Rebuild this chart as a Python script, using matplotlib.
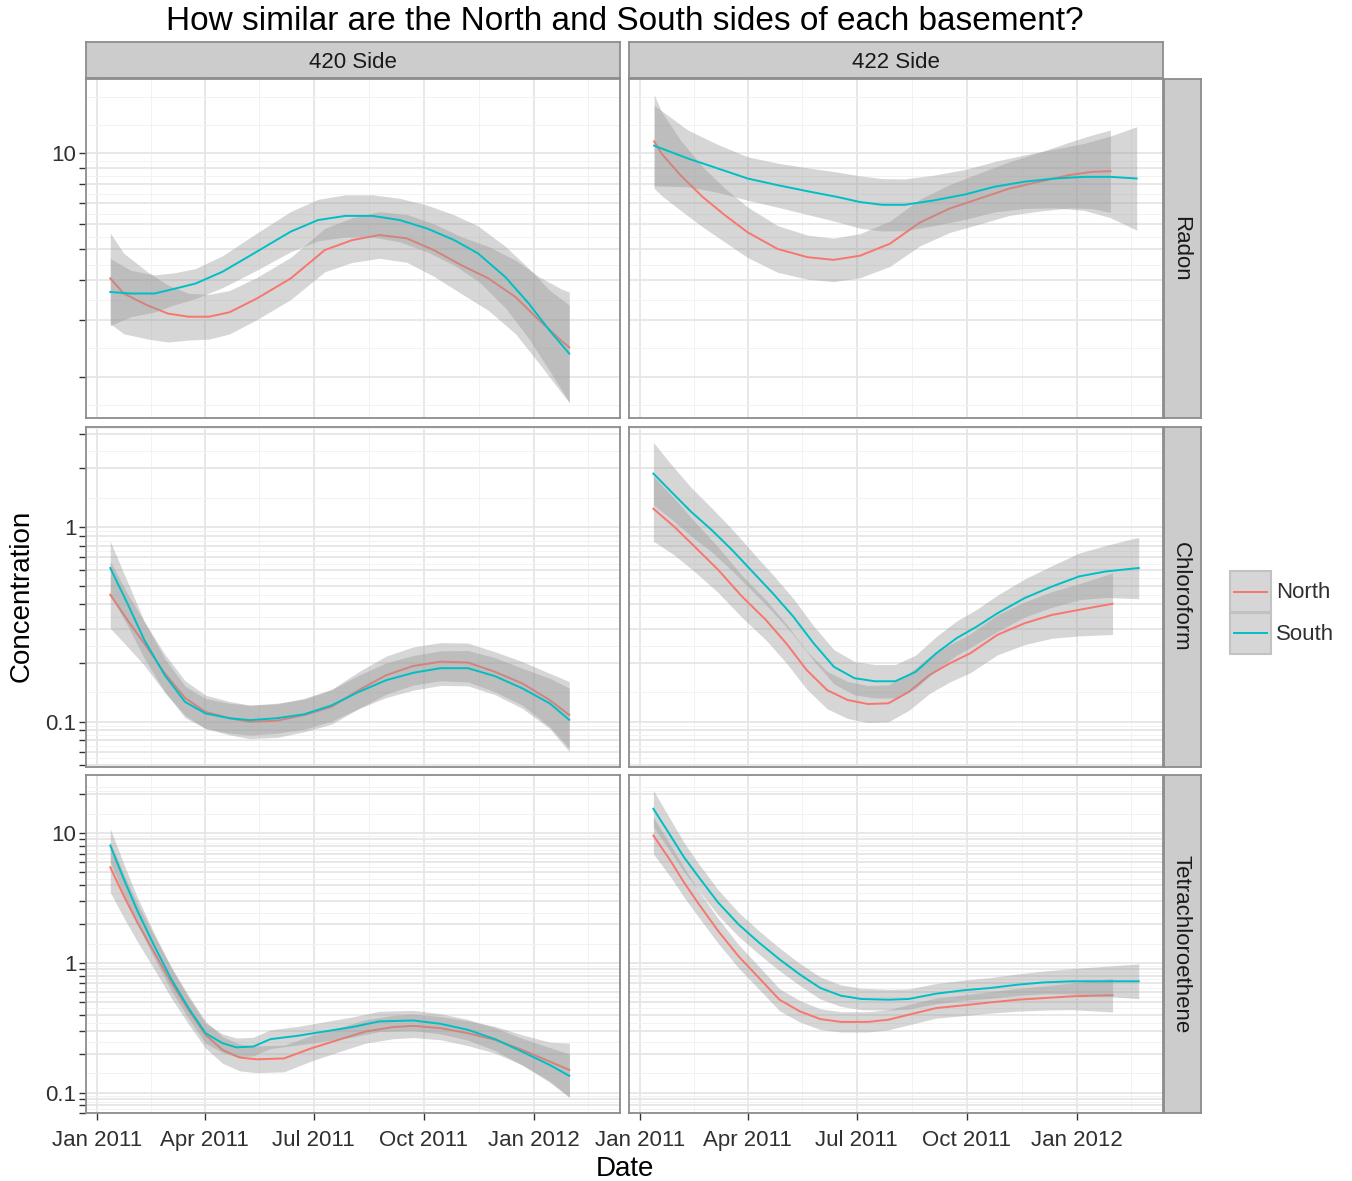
import datetime as dt
import numpy as np
import matplotlib
matplotlib.use("Agg")
import matplotlib.pyplot as plt
import matplotlib.dates as mdates
from matplotlib.patches import Rectangle
from matplotlib.lines import Line2D
from matplotlib.ticker import FixedLocator, FixedFormatter, NullFormatter

plt.rcParams["font.family"] = ["Liberation Sans", "DejaVu Sans"]

SIDES = ["420 Side", "422 Side"]
COMPOUNDS = ["Radon", "Chloroform", "Tetrachloroethene"]
LOCATIONS = ["North", "South"]
COLORS = {"North": "#F8766D", "South": "#00BFC4"}
ORIGIN = dt.datetime(2011, 1, 1)

# smooths: day since 2011-01-01, fitted value,
# ribbon half-width in log10 units

# ── Radon ────────────────────────────────────────────────────────────────────
radon_420_north_day = [11.2, 22.5, 42.4, 59.5, 76.6, 93.7, 110.7, 133.5, 162, 190.4,
                       213.2, 236, 258.7, 281.4, 304.2, 327, 349.7, 369.6, 388, 394.6]
radon_420_north = [4.06, 3.64, 3.34, 3.15, 3.08, 3.08, 3.18, 3.51, 4.06, 4.98,
                   5.35, 5.55, 5.42, 4.98, 4.47, 4.06, 3.55, 3.00, 2.59, 2.47]
radon_420_north_hw = [0.142, 0.126, 0.105, 0.089, 0.073, 0.070, 0.068, 0.066, 0.066, 0.068,
                      0.070, 0.073, 0.075, 0.082, 0.089, 0.100, 0.115, 0.136, 0.162, 0.173]

radon_420_south_day = [11.2, 28.2, 48.1, 65.2, 82.3, 105, 133.5, 162, 184.7, 207.5,
                       230.3, 253, 275.7, 298.5, 318.4, 341.2, 361, 378.1, 394.6]
radon_420_south = [3.68, 3.64, 3.64, 3.77, 3.91, 4.26, 4.92, 5.69, 6.18, 6.37,
                   6.37, 6.18, 5.82, 5.35, 4.86, 4.10, 3.38, 2.79, 2.36]
radon_420_south_hw = [0.105, 0.073, 0.058, 0.050, 0.047, 0.050, 0.058, 0.063, 0.065, 0.066,
                      0.066, 0.068, 0.073, 0.079, 0.086, 0.096, 0.110, 0.126, 0.152]

radon_422_north_day = [11.9, 18.1, 33.8, 52.5, 71.3, 90, 115, 140, 161.9, 183.8,
                       208.8, 233.8, 258.8, 283.8, 308.8, 333.8, 358.8, 377.5, 393.1]
radon_422_north = [10.9, 9.98, 8.55, 7.30, 6.39, 5.66, 5.02, 4.73, 4.64, 4.78,
                   5.21, 6.07, 6.72, 7.22, 7.76, 8.15, 8.55, 8.75, 8.79]
radon_422_north_hw = [0.147, 0.131, 0.110, 0.094, 0.084, 0.079, 0.073, 0.069, 0.068, 0.069,
                      0.071, 0.073, 0.075, 0.080, 0.084, 0.092, 0.103, 0.115, 0.129]

radon_422_south_day = [11.9, 40, 65, 90, 115, 140, 165, 183.8, 202.5, 221.3,
                       246.3, 271.3, 296.3, 321.3, 346.3, 371.3, 393.1, 415]
radon_422_south = [10.57, 9.64, 8.97, 8.34, 7.95, 7.61, 7.30, 7.04, 6.90, 6.90,
                   7.13, 7.43, 7.86, 8.15, 8.34, 8.44, 8.44, 8.34]
radon_422_south_hw = [0.126, 0.089, 0.075, 0.068, 0.069, 0.073, 0.078, 0.082, 0.082, 0.081,
                      0.079, 0.078, 0.079, 0.084, 0.092, 0.105, 0.128, 0.162]

# ── Chloroform ───────────────────────────────────────────────────────────────
chloro_420_north_day = [11.2, 25.4, 39.6, 56.7, 73.7, 90.8, 110.7, 127.8, 150.5, 173.3,
                        196, 218.8, 241.6, 264.4, 287.1, 309.9, 332.6, 355.4, 378.2, 394.6]
chloro_420_north = [0.448, 0.333, 0.252, 0.177, 0.132, 0.112, 0.104, 0.0996, 0.101, 0.108,
                    0.119, 0.145, 0.173, 0.193, 0.203, 0.201, 0.180, 0.157, 0.129, 0.108]
chloro_420_north_hw = [0.172, 0.137, 0.112, 0.098, 0.089, 0.086, 0.086, 0.086, 0.086, 0.086,
                       0.089, 0.095, 0.098, 0.098, 0.098, 0.100, 0.103, 0.112, 0.137, 0.172]

chloro_420_south_day = chloro_420_north_day
chloro_420_south = [0.615, 0.406, 0.263, 0.173, 0.126, 0.110, 0.104, 0.1016, 0.104, 0.109,
                    0.121, 0.142, 0.163, 0.178, 0.188, 0.188, 0.171, 0.148, 0.124, 0.102]
chloro_420_south_hw = [0.137, 0.112, 0.095, 0.086, 0.081, 0.077, 0.077, 0.077, 0.077, 0.077,
                       0.081, 0.086, 0.089, 0.089, 0.089, 0.091, 0.095, 0.103, 0.129, 0.163]

chloro_422_north_day = [11.3, 28.4, 45.5, 65.4, 85.3, 105.2, 122.3, 139.3, 156.4, 173.5,
                        190.5, 207.6, 224.7, 241.7, 258.8, 275.9, 298.7, 321.4, 344.2, 367, 394.8]
chloro_422_north = [1.24, 1.007, 0.795, 0.602, 0.439, 0.333, 0.252, 0.184, 0.145, 0.129,
                    0.123, 0.124, 0.142, 0.173, 0.199, 0.224, 0.279, 0.320, 0.353, 0.375, 0.403]
chloro_422_north_hw = [0.167, 0.146, 0.129, 0.117, 0.108, 0.103, 0.100, 0.098, 0.096, 0.095,
                       0.095, 0.095, 0.095, 0.095, 0.096, 0.100, 0.103, 0.110, 0.120, 0.134, 0.158]

chloro_422_south_day = [11.3, 25.6, 42.6, 59.7, 76.8, 93.8, 110.9, 128, 145, 162.1, 179.2, 196.2,
                        213.3, 230.4, 247.5, 264.5, 281.6, 298.7, 321.4, 344.2, 367, 389.7, 416.7]
chloro_422_south = [1.88, 1.53, 1.20, 0.968, 0.764, 0.591, 0.457, 0.347, 0.253, 0.191, 0.167, 0.161,
                    0.161, 0.180, 0.224, 0.268, 0.308, 0.360, 0.431, 0.494, 0.557, 0.591, 0.615]
chloro_422_south_hw = [0.160, 0.141, 0.125, 0.113, 0.107, 0.100, 0.096, 0.093, 0.089, 0.088, 0.086,
                       0.086, 0.086, 0.086, 0.086, 0.088, 0.089, 0.093, 0.098, 0.107, 0.120, 0.134,
                       0.158]

# ── Tetrachloroethene ────────────────────────────────────────────────────────
tetra_420_north_day = [11.2, 22.5, 33.9, 48.1, 62.4, 76.6, 90.8, 105, 119.3, 133.5, 156.3,
                       179, 201.8, 224.6, 247.4, 264.4, 287.2, 309.9, 332.7, 355.4, 378.2, 394.7]
tetra_420_north = [5.48, 3.30, 2.05, 1.20, 0.703, 0.436, 0.280, 0.214, 0.187, 0.181, 0.184,
                   0.220, 0.256, 0.297, 0.321, 0.328, 0.315, 0.288, 0.256, 0.214, 0.174, 0.150]
tetra_420_north_hw = [0.194, 0.168, 0.147, 0.129, 0.119, 0.111, 0.103, 0.103, 0.103, 0.103, 0.103,
                      0.098, 0.093, 0.090, 0.090, 0.090, 0.090, 0.096, 0.103, 0.116, 0.150, 0.207]

tetra_420_south_day = [11.2, 22.5, 33.9, 48.1, 62.4, 76.6, 90.8, 105, 116.4, 130.6, 144.9,
                       167.6, 190.4, 213.1, 235.9, 264.4, 287.2, 309.9, 332.7, 355.4, 378.2, 394.7]
tetra_420_south = [8.07, 4.45, 2.53, 1.35, 0.746, 0.450, 0.288, 0.241, 0.224, 0.227, 0.259,
                   0.275, 0.297, 0.321, 0.355, 0.361, 0.340, 0.306, 0.259, 0.207, 0.164, 0.135]
tetra_420_south_hw = [0.129, 0.116, 0.103, 0.096, 0.088, 0.080, 0.078, 0.072, 0.072, 0.072, 0.072,
                      0.072, 0.075, 0.078, 0.078, 0.078, 0.078, 0.080, 0.088, 0.103, 0.134, 0.168]

tetra_422_north_day = [11.3, 25.5, 36.9, 48.3, 65.4, 82.4, 99.5, 116.6, 133.7, 150.7, 167.8,
                       190.5, 207.6, 224.7, 247.5, 270.2, 293, 315.7, 338.5, 361.3, 394.8]
tetra_422_north = [9.64, 6.17, 4.19, 2.93, 1.77, 1.13, 0.769, 0.522, 0.424, 0.370, 0.352,
                   0.352, 0.366, 0.400, 0.450, 0.472, 0.498, 0.522, 0.538, 0.555, 0.565]
tetra_422_north_hw = [0.142, 0.124, 0.114, 0.103, 0.096, 0.090, 0.088, 0.085, 0.083, 0.080, 0.078,
                      0.078, 0.078, 0.078, 0.078, 0.080, 0.083, 0.088, 0.093, 0.103, 0.129]

tetra_422_south_day = [11.3, 25.5, 36.9, 48.3, 65.4, 82.4, 99.5, 116.6, 133.7, 150.7, 167.8,
                       184.9, 207.6, 224.7, 247.5, 270.2, 293, 315.7, 338.5, 361.3, 389.7, 416.7]
tetra_422_south = [15.5, 9.64, 6.55, 4.72, 2.93, 1.99, 1.44, 1.07, 0.816, 0.643, 0.561,
                   0.529, 0.522, 0.529, 0.581, 0.617, 0.643, 0.682, 0.711, 0.724, 0.724, 0.724]
tetra_422_south_hw = [0.142, 0.124, 0.114, 0.103, 0.098, 0.093, 0.090, 0.088, 0.085, 0.085, 0.083,
                      0.083, 0.080, 0.078, 0.078, 0.078, 0.080, 0.083, 0.088, 0.098, 0.116, 0.134]

SERIES = {
    ("Radon", "420 Side", "North"): (radon_420_north_day, radon_420_north, radon_420_north_hw),
    ("Radon", "420 Side", "South"): (radon_420_south_day, radon_420_south, radon_420_south_hw),
    ("Radon", "422 Side", "North"): (radon_422_north_day, radon_422_north, radon_422_north_hw),
    ("Radon", "422 Side", "South"): (radon_422_south_day, radon_422_south, radon_422_south_hw),
    ("Chloroform", "420 Side", "North"): (chloro_420_north_day, chloro_420_north, chloro_420_north_hw),
    ("Chloroform", "420 Side", "South"): (chloro_420_south_day, chloro_420_south, chloro_420_south_hw),
    ("Chloroform", "422 Side", "North"): (chloro_422_north_day, chloro_422_north, chloro_422_north_hw),
    ("Chloroform", "422 Side", "South"): (chloro_422_south_day, chloro_422_south, chloro_422_south_hw),
    ("Tetrachloroethene", "420 Side", "North"): (tetra_420_north_day, tetra_420_north, tetra_420_north_hw),
    ("Tetrachloroethene", "420 Side", "South"): (tetra_420_south_day, tetra_420_south, tetra_420_south_hw),
    ("Tetrachloroethene", "422 Side", "North"): (tetra_422_north_day, tetra_422_north, tetra_422_north_hw),
    ("Tetrachloroethene", "422 Side", "South"): (tetra_422_south_day, tetra_422_south, tetra_422_south_hw),
}

W, H = 1352, 1181
COL_X = [(86, 620), (629, 1163)]
ROW_Y = [(79, 418), (427, 767), (775, 1113)]
TEXT = "#1A1A1A"
AXTXT = "#303030"
BORDER = "#8C8C8C"


def rect(x0, y0, x1, y1):
    return [x0 / W, 1 - y1 / H, (x1 - x0) / W, (y1 - y0) / H]


def minor_breaks(major, lo, hi):
    # ggplot-style: midpoints between majors, extended one step past the ends
    b = list(major)
    bd = b[1] - b[0]
    if lo < b[0]:
        b = [b[0] - bd] + b
    if hi > b[-1]:
        b = b + [b[-1] + bd]
    mids = [(a + c) / 2 for a, c in zip(b[:-1], b[1:])]
    out = sorted(set(np.round(mids + b, 9)) - set(np.round(major, 9)))
    return [v for v in out if lo <= v <= hi]


def strip(x0, y0, x1, y1, label, rotation=0):
    st = fig.add_axes(rect(x0, y0, x1, y1))
    st.set_facecolor("#CCCCCC")
    st.set_xticks([])
    st.set_yticks([])
    for sp in st.spines.values():
        sp.set_color(BORDER)
        sp.set_linewidth(1.3)
    if rotation:
        st.text(0.45, 0.5, label, ha="center", va="center", fontsize=16,
                rotation=rotation, color=TEXT, transform=st.transAxes)
    else:
        st.text(0.5, 0.42, label, ha="center", va="center", fontsize=16,
                color=TEXT, transform=st.transAxes)


base = mdates.date2num(ORIGIN)

# x range over every facet (shared), 5% expansion
all_days = np.concatenate([np.asarray(s[0], float) for s in SERIES.values()])
span = all_days.max() - all_days.min()
xlim = (base + all_days.min() - 0.05 * span, base + all_days.max() + 0.05 * span)
xmajor_dates = [dt.datetime(2011, 1, 1), dt.datetime(2011, 4, 1), dt.datetime(2011, 7, 1),
                dt.datetime(2011, 10, 1), dt.datetime(2012, 1, 1), dt.datetime(2012, 4, 1)]
xmajor = [mdates.date2num(d) for d in xmajor_dates]
keep = [i for i, v in enumerate(xmajor) if xlim[0] <= v <= xlim[1]]
xmajor = [xmajor[i] for i in keep]
xlabels = [xmajor_dates[i].strftime("%b %Y") for i in keep]
xminor = minor_breaks(xmajor, *xlim)

fig = plt.figure(figsize=(W / 100, H / 100), dpi=100)

for r, comp in enumerate(COMPOUNDS):
    # free y per row: log range of ribbons, 5% expansion
    lows, highs = [], []
    for side in SIDES:
        for loc in LOCATIONS:
            d, v, hw = SERIES[(comp, side, loc)]
            lv = np.log10(v)
            lows.append((lv - np.asarray(hw)).min())
            highs.append((lv + np.asarray(hw)).max())
    lo, hi = min(lows), max(highs)
    pad = 0.05 * (hi - lo)
    ylo, yhi = lo - pad, hi + pad
    ymajor = [np.log10(m * 10.0 ** k) for k in range(-3, 3) for m in range(1, 10)]
    ymajor = [v for v in ymajor if ylo <= v <= yhi]
    yminor = minor_breaks(ymajor, ylo, yhi)
    ylabels = [f"{10 ** v:g}" if abs(v - round(v)) < 1e-9 else "" for v in ymajor]

    for c, side in enumerate(SIDES):
        (x0, x1), (y0, y1) = COL_X[c], ROW_Y[r]
        ax = fig.add_axes(rect(x0, y0, x1, y1))
        ax.set_yscale("log")
        ax.set_xlim(*xlim)
        ax.set_ylim(10 ** ylo, 10 ** yhi)

        for loc in LOCATIONS:
            d, v, hw = SERIES[(comp, side, loc)]
            x = base + np.asarray(d, float)
            v = np.asarray(v, float)
            hw = np.asarray(hw, float)
            ax.fill_between(x, v / 10 ** hw, v * 10 ** hw, color="#999999",
                            alpha=0.4, lw=0, zorder=2)
            ax.plot(x, v, color=COLORS[loc], lw=1.4, zorder=2)

        ax.xaxis.set_major_locator(FixedLocator(xmajor))
        ax.xaxis.set_minor_locator(FixedLocator(xminor))
        ax.xaxis.set_major_formatter(FixedFormatter(xlabels))
        ax.xaxis.set_minor_formatter(NullFormatter())
        ax.yaxis.set_major_locator(FixedLocator([10 ** v for v in ymajor]))
        ax.yaxis.set_minor_locator(FixedLocator([10 ** v for v in yminor]))
        ax.yaxis.set_major_formatter(FixedFormatter(ylabels))
        ax.yaxis.set_minor_formatter(NullFormatter())

        ax.set_axisbelow(True)
        ax.grid(which="major", color="#E6E6E6", lw=1.3)
        ax.grid(which="minor", color="#F2F2F2", lw=0.7)
        ax.tick_params(which="minor", length=0)
        ax.tick_params(which="major", length=5, width=1.0, color="#333333",
                       labelsize=16, labelcolor=AXTXT)
        ax.tick_params(axis="y", which="major", pad=2)
        ax.tick_params(axis="x", which="major", pad=7)
        if c > 0:
            ax.tick_params(axis="y", which="major", length=0, labelleft=False)
        if r < len(COMPOUNDS) - 1:
            ax.tick_params(axis="x", which="major", length=0, labelbottom=False)
        for sp in ax.spines.values():
            sp.set_color(BORDER)
            sp.set_linewidth(1.3)

        if r == 0:
            strip(x0, 42, x1, 78, side)
        if c == len(SIDES) - 1:
            strip(1164, y0, 1201, y1, comp, rotation=-90)

fig.text(624.5 / W, 1 - 22 / H, "How similar are the North and South sides of each basement?",
         ha="center", va="center", fontsize=24, color="black")
fig.text(624.5 / W, 1 - 1169 / H, "Date", ha="center", va="center", fontsize=20, color="black")
fig.text(22 / W, 1 - 596 / H, "Concentration", ha="center", va="center", rotation=90,
         fontsize=20, color="black")

# legend drawn in pixel space
ov = fig.add_axes([0, 0, 1, 1])
ov.set_xlim(0, W)
ov.set_ylim(H, 0)
ov.axis("off")
for i, loc in enumerate(LOCATIONS):
    ky = 571 + i * 41.5
    ov.add_patch(Rectangle((1230, ky), 41, 41, facecolor="#D6D6D6", edgecolor="#C2C2C2", lw=1.5))
    ov.add_line(Line2D([1234, 1267], [ky + 20.5, ky + 20.5], color=COLORS[loc], lw=1.4))
    ov.text(1276, ky + 22, loc, ha="left", va="center", fontsize=16, color=AXTXT)

fig.savefig("out.png", dpi=100)
